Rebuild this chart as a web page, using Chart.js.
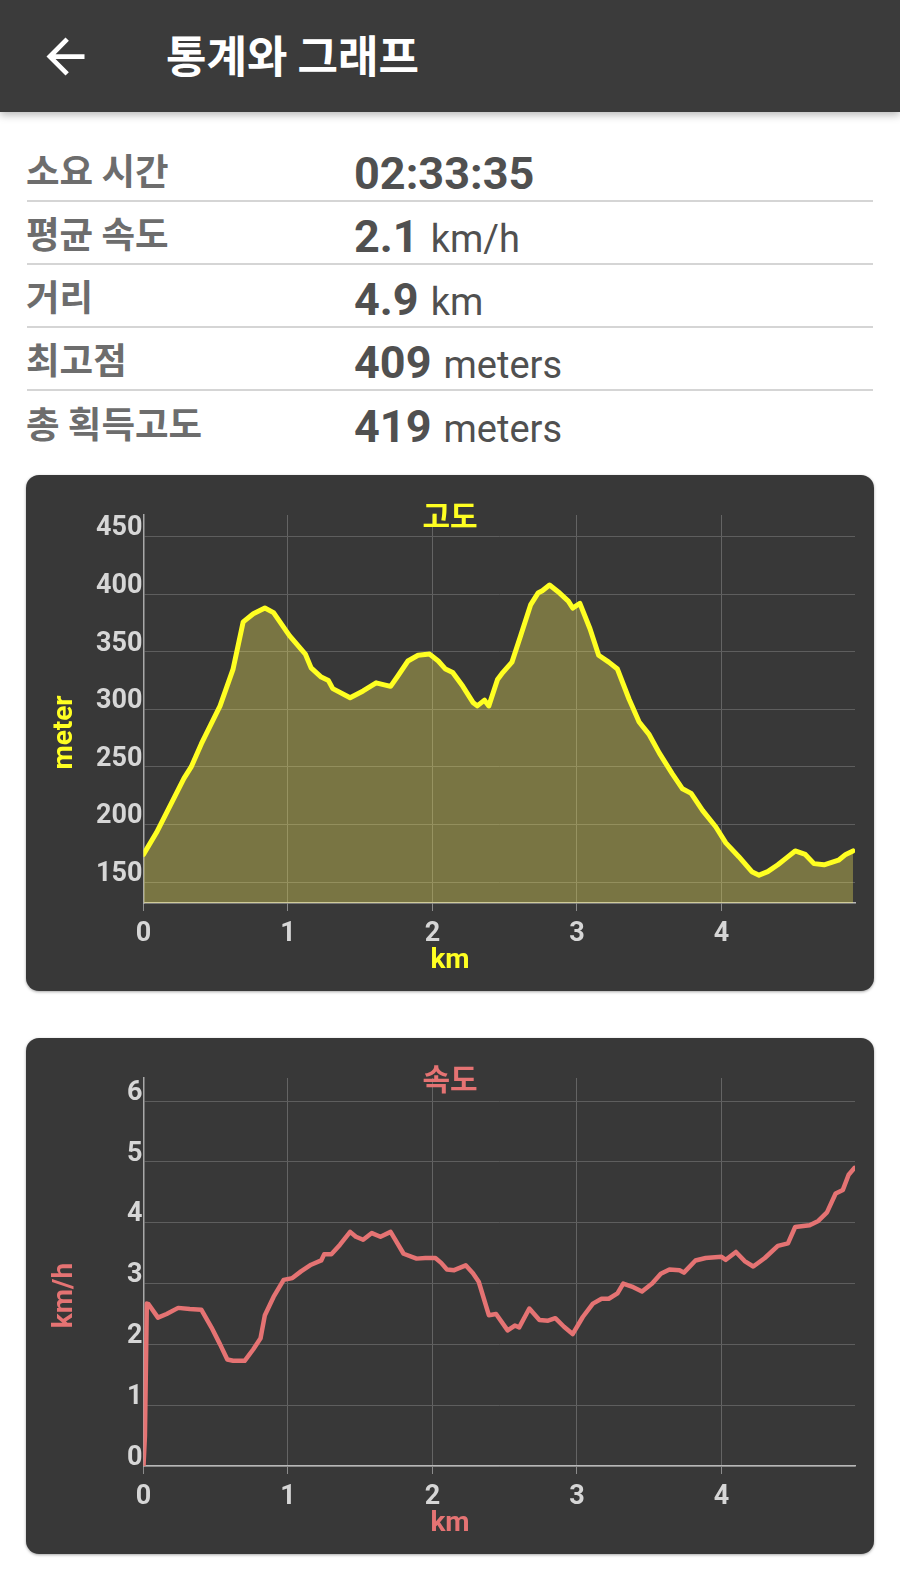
<!DOCTYPE html>
<html><head><meta charset="utf-8">
<script src="https://cdn.jsdelivr.net/npm/chart.js@4.4.1/dist/chart.umd.min.js"></script>
<style>
html,body{margin:0;padding:0;background:#fff;}
body{width:900px;height:1569px;position:relative;overflow:hidden;font-family:Roboto,"Noto Sans CJK KR",sans-serif;}
#hdr{position:absolute;left:0;top:0;width:900px;height:112px;background:#3b3b3b;box-shadow:0 3px 8px rgba(0,0,0,0.28);z-index:2}
#hdr svg{position:absolute;left:37px;top:28px;width:57px;height:57px}
#hdr .t{position:absolute;left:166px;top:24px;height:60px;line-height:60px;font-family:"Noto Sans CJK KR";font-weight:bold;font-size:44px;color:#fff;white-space:nowrap}
.lab{position:absolute;left:26px;height:50px;line-height:50px;font-family:"Noto Sans CJK KR";font-weight:bold;font-size:36.5px;color:#6d6d6d;white-space:nowrap}
.val{position:absolute;left:354px;height:50px;line-height:50px;font-family:Roboto;color:#505050;white-space:nowrap}
.val b{font-size:45px;font-weight:bold}
.val span{font-size:38px;font-weight:normal;margin-left:12px}
.sep{position:absolute;left:27px;width:846px;height:2px;background:#d5d5d5}
.card{position:absolute;left:26px;width:848px;height:516px;background:#383838;border-radius:13px;box-shadow:0 1px 3px rgba(0,0,0,.35);overflow:hidden}
.card canvas{display:block}
</style>
</head>
<body>
<div id="hdr">
  <svg viewBox="0 0 24 24"><path fill="#ffffff" d="M20 11H7.83l5.59-5.59L12 4l-8 8 8 8 1.41-1.41L7.83 13H20v-2z"/></svg>
  <div class="t">통계와 그래프</div>
</div>
<div id="stats"></div>
<div class="card" style="top:475px"><canvas id="elev" width="848" height="516"></canvas></div>
<div class="card" style="top:1038px"><canvas id="speed" width="848" height="516"></canvas></div>
<script>
// ---- stats table ----
const statLabels = ["소요 시간", "평균 속도", "거리", "최고점", "총 획득고도"];
const statValues = ["02:33:35", "2.1", "4.9", "409", "419"];
const statUnits  = ["", "km/h", "km", "meters", "meters"];

// ---- elevation chart ----
const elevTitle = "고도", elevXTitle = "km", elevYTitle = "meter";
const elevKm = [0,0.09,0.28,0.33,0.40,0.53,0.62,0.69,0.76,0.84,0.90,1.01,1.12,1.16,1.23,1.28,1.31,1.43,1.52,1.61,1.71,1.76,1.83,1.90,1.98,2.04,2.09,2.14,2.21,2.28,2.31,2.36,2.39,2.45,2.48,2.55,2.61,2.68,2.73,2.76,2.81,2.88,2.94,2.97,3.02,3.09,3.15,3.22,3.28,3.36,3.43,3.50,3.57,3.66,3.73,3.79,3.87,3.96,4.03,4.12,4.21,4.26,4.32,4.39,4.45,4.51,4.58,4.64,4.71,4.81,4.86,4.91];
const elevM  = [174,193,240,250,270,303,335,376,383,388,384,364,348,336,328,325,318,310,316,323,320,329,342,347,348,342,335,332,320,306,303,308,303,326,331,341,364,391,401,403,408,401,394,388,392,370,347,341,335,309,289,278,262,244,231,227,212,198,184,172,159,156,159,165,171,177,174,166,165,169,174,177];
const elevRange = [131.8, 468.8];

// ---- speed chart ----
const speedTitle = "속도", speedXTitle = "km", speedYTitle = "km/h";
const speedKm = [0,0.01,0.023,0.035,0.10,0.16,0.24,0.32,0.40,0.47,0.53,0.58,0.62,0.70,0.76,0.81,0.84,0.90,0.97,1.03,1.09,1.16,1.23,1.25,1.30,1.36,1.43,1.47,1.52,1.58,1.64,1.71,1.74,1.80,1.89,1.95,2.02,2.06,2.10,2.15,2.23,2.28,2.32,2.39,2.44,2.52,2.57,2.60,2.67,2.74,2.80,2.85,2.91,2.97,3.04,3.11,3.17,3.22,3.28,3.32,3.39,3.45,3.52,3.58,3.64,3.71,3.74,3.82,3.89,4.00,4.03,4.10,4.16,4.22,4.30,4.39,4.46,4.51,4.61,4.67,4.73,4.79,4.84,4.88,4.92];
const speedV  = [0,0.5,2.67,2.66,2.44,2.5,2.6,2.58,2.57,2.28,2.0,1.75,1.73,1.73,1.92,2.1,2.48,2.78,3.06,3.09,3.2,3.31,3.38,3.48,3.48,3.64,3.85,3.77,3.72,3.83,3.77,3.85,3.73,3.49,3.41,3.42,3.42,3.34,3.23,3.22,3.30,3.17,3.03,2.48,2.5,2.23,2.31,2.28,2.59,2.40,2.39,2.43,2.29,2.17,2.45,2.67,2.75,2.75,2.84,3.0,2.94,2.87,3.0,3.16,3.23,3.22,3.18,3.38,3.42,3.44,3.39,3.52,3.37,3.28,3.42,3.62,3.66,3.93,3.96,4.03,4.17,4.48,4.54,4.79,4.90];
const speedRange = [0, 6.38];
const xRange = [0, 4.924];

// build stats rows
const stats = document.getElementById('stats');
const rowCenters = [171, 234.3, 297.5, 360.8, 424];
statLabels.forEach((lab, i) => {
  const c = rowCenters[i];
  const l = document.createElement('div');
  l.className = 'lab'; l.style.top = (c - 26.5) + 'px'; l.textContent = lab;
  stats.appendChild(l);
  const v = document.createElement('div');
  v.className = 'val'; v.style.top = (c + 2.5 - 25) + 'px';
  const b = document.createElement('b'); b.textContent = statValues[i]; v.appendChild(b);
  if (statUnits[i]) { const s = document.createElement('span'); s.textContent = statUnits[i]; v.appendChild(s); }
  stats.appendChild(v);
  if (i < statLabels.length - 1) {
    const sep = document.createElement('div');
    sep.className = 'sep'; sep.style.top = (c + 28.5) + 'px';
    stats.appendChild(sep);
  }
});

const cardText = {
  id: 'cardText',
  afterDraw(chart, args, o) {
    const ctx = chart.ctx, w = chart.width;
    ctx.save();
    ctx.fillStyle = o.color;
    ctx.textAlign = 'center';
    ctx.textBaseline = 'middle';
    ctx.font = 'bold 30px "Noto Sans CJK KR"';
    ctx.fillText(o.title, w / 2, 41);
    ctx.font = 'bold 28px Roboto';
    ctx.fillText(o.xTitle, w / 2, 486);
    ctx.translate(38.5, 257.5);
    ctx.rotate(-Math.PI / 2);
    ctx.fillText(o.yTitle, 0, 0);
    ctx.restore();
  }
};

function makeChart(id, xs, ys, yRange, yStep, color, fillColor, lw, titles) {
  const pts = xs.map((x, i) => ({x: x, y: ys[i]}));
  const tickFont = {family: 'Roboto', size: 27, weight: 'bold'};
  return new Chart(document.getElementById(id), {
    type: 'line',
    data: { datasets: [{
      data: pts, borderColor: color, borderWidth: lw,
      backgroundColor: fillColor || 'transparent', fill: fillColor ? 'start' : false,
      pointRadius: 0, tension: 0, borderJoinStyle: 'round', borderCapStyle: 'round'
    }]},
    options: {
      responsive: false, animation: false, events: [],
      layout: { padding: {left: 0, top: 40, right: 19, bottom: 0} },
      plugins: { legend: {display: false}, tooltip: {enabled: false},
        cardText: { color: color, title: titles[0], xTitle: titles[1], yTitle: titles[2] } },
      scales: {
        x: {
          type: 'linear', min: xRange[0], max: xRange[1],
          afterFit(s) { s.height = 88; },
          grid: { color: '#646464', lineWidth: 1, drawTicks: true, tickLength: 8, tickColor: '#8c8c8c' },
          border: { display: true, color: '#b8b8b8', width: 1.5 },
          ticks: { stepSize: 1, includeBounds: false, padding: 7, maxRotation: 0, color: '#d6d6d6', font: tickFont }
        },
        y: {
          min: yRange[0], max: yRange[1],
          afterFit(s) { s.width = 117.5; },
          grid: { color: '#5e5e5e', lineWidth: 1, drawTicks: false },
          border: { display: true, color: '#a8a8a8', width: 1.5 },
          ticks: { stepSize: yStep, includeBounds: false, padding: 1, labelOffset: -8, color: '#d6d6d6', font: tickFont }
        }
      }
    },
    plugins: [cardText]
  });
}

makeChart('elev', elevKm, elevM, elevRange, 50, '#ffff22', 'rgba(255,244,92,0.33)', 5, [elevTitle, elevXTitle, elevYTitle]);
makeChart('speed', speedKm, speedV, speedRange, 1, '#e57373', null, 4.5, [speedTitle, speedXTitle, speedYTitle]);
</script>
</body></html>
